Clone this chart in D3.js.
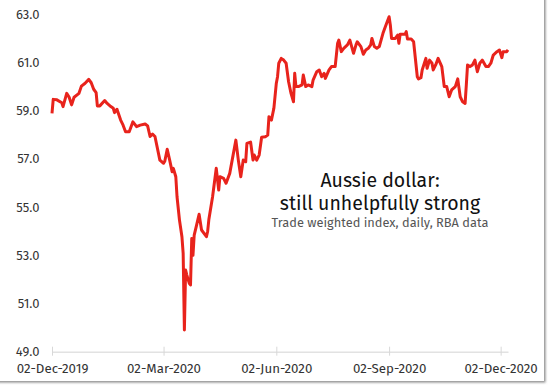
<!DOCTYPE html>
<html>
<head>
<meta charset="utf-8">
<script src="https://cdn.jsdelivr.net/npm/d3@7"></script>
<style>
  body { margin: 0; background: #fff; }
  svg text { font-family: "Fira Sans", "Noto Sans", sans-serif; }
</style>
</head>
<body>
<div id="chart"></div>
<script>
// trade weighted index
const dates = [
  "2019-12-02","2019-12-03","2019-12-06","2019-12-10","2019-12-11","2019-12-14","2019-12-16","2019-12-18","2019-12-20","2019-12-24",
  "2019-12-26","2019-12-29","2020-01-01","2020-01-03","2020-01-05","2020-01-07","2020-01-08","2020-01-10","2020-01-14","2020-01-16",
  "2020-01-19","2020-01-21","2020-01-22","2020-01-24","2020-01-27","2020-01-29","2020-01-31","2020-02-03","2020-02-06","2020-02-09",
  "2020-02-12","2020-02-16","2020-02-18","2020-02-20","2020-02-22","2020-02-24","2020-02-28","2020-03-02","2020-03-03","2020-03-05",
  "2020-03-07","2020-03-09","2020-03-10","2020-03-12","2020-03-13","2020-03-15","2020-03-17","2020-03-18","2020-03-19","2020-03-20",
  "2020-03-21","2020-03-23","2020-03-24","2020-03-25","2020-03-26","2020-03-27","2020-03-29","2020-03-31","2020-04-02","2020-04-06",
  "2020-04-07","2020-04-08","2020-04-11","2020-04-14","2020-04-16","2020-04-17","2020-04-20","2020-04-22","2020-04-25","2020-04-28",
  "2020-04-30","2020-05-02","2020-05-04","2020-05-06","2020-05-08","2020-05-09","2020-05-12","2020-05-14","2020-05-15","2020-05-17",
  "2020-05-19","2020-05-21","2020-05-24","2020-05-26","2020-05-27","2020-05-29","2020-05-31","2020-06-02","2020-06-03","2020-06-04",
  "2020-06-06","2020-06-08","2020-06-10","2020-06-12","2020-06-14","2020-06-16","2020-06-17","2020-06-18","2020-06-20","2020-06-23",
  "2020-06-24","2020-06-26","2020-06-28","2020-07-01","2020-07-02","2020-07-05","2020-07-07","2020-07-09","2020-07-11","2020-07-12",
  "2020-07-15","2020-07-17","2020-07-20","2020-07-22","2020-07-23","2020-07-25","2020-07-27","2020-07-30","2020-08-01","2020-08-04",
  "2020-08-06","2020-08-07","2020-08-10","2020-08-12","2020-08-14","2020-08-16","2020-08-18","2020-08-19","2020-08-21","2020-08-23",
  "2020-08-25","2020-08-28","2020-08-30","2020-09-02","2020-09-03","2020-09-04","2020-09-07","2020-09-09","2020-09-10","2020-09-11",
  "2020-09-15","2020-09-16","2020-09-17","2020-09-20","2020-09-22","2020-09-25","2020-09-26","2020-09-28","2020-09-29","2020-10-02",
  "2020-10-03","2020-10-05","2020-10-07","2020-10-08","2020-10-10","2020-10-12","2020-10-15","2020-10-17","2020-10-19","2020-10-21",
  "2020-10-23","2020-10-26","2020-10-28","2020-10-30","2020-11-01","2020-11-03","2020-11-04","2020-11-05","2020-11-07","2020-11-09",
  "2020-11-11","2020-11-13","2020-11-15","2020-11-17","2020-11-20","2020-11-22","2020-11-24","2020-11-26","2020-11-29","2020-12-01",
  "2020-12-03","2020-12-04","2020-12-07","2020-12-08"
];
const twi = [
  58.89,59.47,59.45,59.33,59.17,59.72,59.56,59.24,59.56,59.72,
  60.02,60.14,60.30,60.16,59.89,59.75,59.20,59.20,59.42,59.30,
  59.17,59.10,58.92,59.06,58.61,58.40,58.13,58.13,58.54,58.34,
  58.40,58.45,58.37,57.93,58.03,57.93,56.95,56.82,56.90,57.40,
  56.95,56.47,56.61,56.26,55.43,54.46,53.77,53.08,49.90,52.39,
  52.18,51.84,51.77,53.70,53.00,53.84,54.26,54.70,54.05,53.77,
  54.00,54.50,55.43,56.61,55.71,56.26,56.19,55.99,56.40,57.23,
  57.78,56.95,56.26,56.95,56.88,57.64,57.70,56.95,57.16,56.95,
  57.16,57.90,57.92,57.99,58.75,58.61,59.10,60.14,60.41,60.97,
  61.17,61.10,60.97,60.20,59.72,59.37,60.55,60.00,60.00,60.07,
  60.48,60.00,60.07,60.00,60.27,60.62,60.69,60.41,60.55,60.34,
  60.69,60.83,60.83,61.80,61.93,61.45,61.59,61.73,61.93,61.38,
  61.73,61.86,61.66,61.34,61.52,61.59,61.73,62.00,61.66,61.59,
  61.66,62.21,62.49,62.90,62.56,62.00,62.00,62.14,61.80,62.17,
  62.17,62.28,61.98,61.98,61.86,60.41,60.32,60.37,60.69,61.17,
  60.76,61.10,60.97,60.69,60.90,61.17,60.83,60.00,60.00,59.58,
  59.86,60.00,60.32,59.58,59.37,59.30,60.07,60.90,60.83,60.90,
  61.10,60.62,60.97,61.10,60.83,60.83,60.97,61.31,61.45,61.52,
  61.20,61.45,61.45,61.52
];
const yTicks = [49, 51, 53, 55, 57, 59, 61, 63];
const xTicks = ["2019-12-02", "2020-03-02", "2020-06-02", "2020-09-02", "2020-12-02"];
const titleLines = ["Aussie dollar:", "still unhelpfully strong"];
const subtitle = "Trade weighted index, daily, RBA data";

const width = 550, height = 387;
const parse = d3.timeParse("%Y-%m-%d");
const fmt = d3.timeFormat("%d-%b-%Y");
const data = dates.map((d, i) => ({ date: parse(d), value: twi[i] }));

const svg = d3.select("#chart").append("svg")
  .attr("width", width)
  .attr("height", height);

const defs = svg.append("defs");
const shadow = defs.append("filter").attr("id", "shadow")
  .attr("x", "-5%").attr("y", "-5%").attr("width", "110%").attr("height", "110%");
shadow.append("feDropShadow")
  .attr("dx", 1.5).attr("dy", 1.5).attr("stdDeviation", 1.2)
  .attr("flood-color", "#777").attr("flood-opacity", 0.85);

// card with shadow on right and bottom
svg.append("rect")
  .attr("x", -10).attr("y", -10)
  .attr("width", 554).attr("height", 391)
  .attr("fill", "#fff")
  .attr("filter", "url(#shadow)");

const x = d3.scaleTime()
  .domain([parse("2019-12-02"), parse("2020-12-08")])
  .range([52, 508]);
const y = d3.scaleLinear()
  .domain([49, 63])
  .range([351.7, 14.3]);

// x axis
const xAxis = d3.axisBottom(x)
  .tickValues(xTicks.map(parse))
  .tickFormat(fmt)
  .tickSize(0)
  .tickPadding(11.5);
const gx = svg.append("g").attr("transform", "translate(0,351.7)").call(xAxis);
gx.select(".domain").attr("stroke", "#e2e2e2").attr("stroke-width", 1.5);
gx.selectAll(".tick text")
  .attr("fill", "#333")
  .style("font-size", "13.3px");
gx.selectAll(".tick").append("line")
  .attr("y1", -5).attr("y2", 4)
  .attr("stroke", "#d8d8d8");

// y labels
svg.append("g").selectAll("text")
  .data(yTicks)
  .join("text")
  .attr("x", 39.5)
  .attr("y", d => y(d))
  .attr("dy", "0.35em")
  .attr("text-anchor", "end")
  .attr("fill", "#333")
  .style("font-size", "13px")
  .text(d => d.toFixed(1));

const line = d3.line()
  .x(d => x(d.date))
  .y(d => y(d.value));

svg.append("path")
  .datum(data)
  .attr("d", line)
  .attr("fill", "none")
  .attr("stroke", "#e8231c")
  .attr("stroke-width", 3)
  .attr("stroke-linejoin", "round");

// title block
svg.append("g").selectAll("text")
  .data(titleLines)
  .join("text")
  .attr("x", 380)
  .attr("y", (d, i) => 187 + i * 22.5)
  .attr("text-anchor", "middle")
  .attr("fill", "#111")
  .style("font-size", "19.5px")
  .text(d => d);

svg.append("text")
  .attr("x", 380)
  .attr("y", 227)
  .attr("text-anchor", "middle")
  .attr("fill", "#555")
  .style("font-size", "12.8px")
  .text(subtitle);
</script>
</body>
</html>
